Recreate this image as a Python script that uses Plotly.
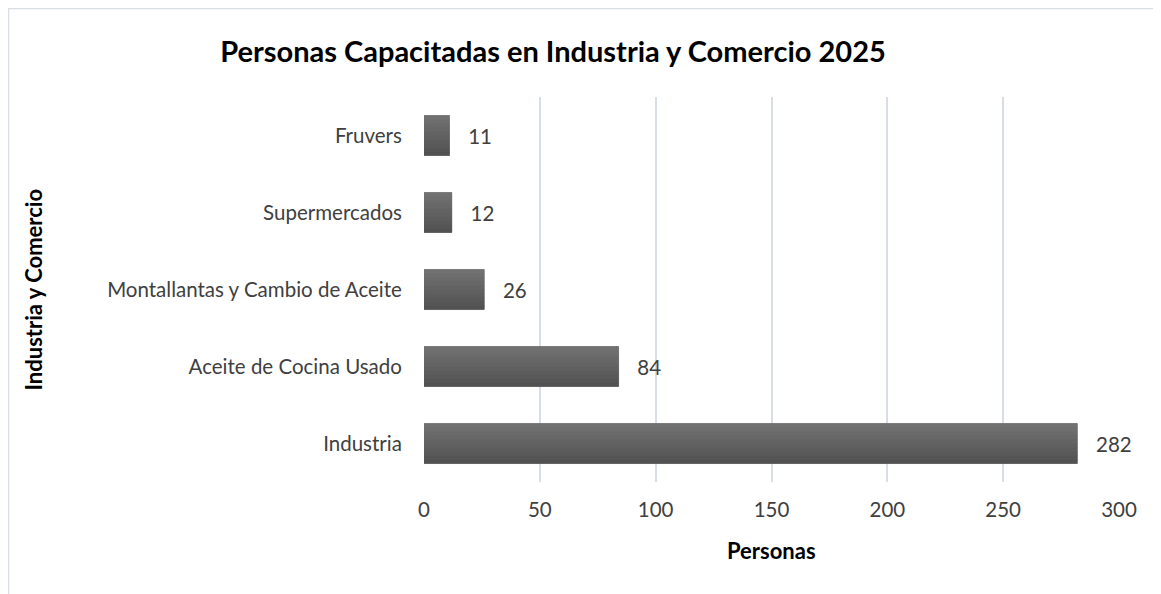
import plotly.graph_objects as go

categorias = ['Industria', 'Aceite de Cocina Usado', 'Montallantas y Cambio de Aceite',
              'Supermercados', 'Fruvers']
personas = [282, 84, 26, 12, 11]
ticks_x = [0, 50, 100, 150, 200, 250, 300]

W, H = 1161, 594
L, R, T, B = 416, 50, 89, 120
pw, ph = W - L - R, H - T - B
ancho = 0.52

fig = go.Figure()
fig.add_trace(go.Bar(
    y=categorias, x=personas, orientation='h',
    marker=dict(color='#5f5f5f', line=dict(width=0)),
    width=ancho,
    text=personas, texttemplate='\u00a0\u00a0\u00a0%{text}', textposition='outside',
    textfont=dict(size=20.5, color='#404040'),
    cliponaxis=False, hoverinfo='skip',
))

# degradado vertical de la barra (claro arriba, oscuro abajo)
n = 10
for i in range(n):
    t = i / (n - 1)
    g = int(round(0x52 + (0x71 - 0x52) * t))
    fig.add_trace(go.Bar(
        y=categorias, x=personas, orientation='h',
        width=ancho / n, offset=-ancho / 2 + i * ancho / n,
        marker=dict(color=f'rgb({g},{g},{g})', line=dict(width=0.6, color=f'rgb({g},{g},{g})')),
        hoverinfo='skip',
    ))

fig.update_layout(
    width=W, height=H, barmode='overlay',
    margin=dict(l=L, r=R, t=T, b=B, autoexpand=False),
    paper_bgcolor='white', plot_bgcolor='white',
    font=dict(family='Lato', size=20.5, color='#404040'),
    title=dict(text='<b>Personas Capacitadas en Industria y Comercio 2025</b>',
               x=545 / W, xanchor='center', y=1 - 44 / H, yanchor='middle',
               font=dict(size=29, color='black')),
    showlegend=False,
)
fig.update_xaxes(range=[0, 300], tickvals=ticks_x, showgrid=True,
                 gridcolor='#d9dde4', gridwidth=1.5, zeroline=False,
                 showline=False, ticks='outside', ticklen=9,
                 tickcolor='rgba(0,0,0,0)',
                 tickfont=dict(size=20.5, color='#404040'))
fig.update_yaxes(showgrid=False, zeroline=False, showline=False,
                 ticks='outside', ticklen=17, tickcolor='rgba(0,0,0,0)',
                 tickfont=dict(size=20.5, color='#404040'))

fig.add_annotation(text='<b>Personas</b>', xref='paper', yref='paper',
                   x=0.5, y=-(542 - (H - B)) / ph, xanchor='center', yanchor='middle',
                   showarrow=False, font=dict(size=22, color='black'))
fig.add_annotation(text='<b>Industria y Comercio</b>', xref='paper', yref='paper',
                   x=-(L - 25) / pw, y=0.5, xanchor='center', yanchor='middle',
                   textangle=-90, showarrow=False, font=dict(size=22, color='black'))

# borde del area del grafico
fig.add_shape(type='rect', xref='paper', yref='paper',
              x0=(0.5 - L) / pw, x1=(W + 5 - L) / pw,
              y0=(H - B - (H + 5)) / ph, y1=(H - B - 0.5) / ph,
              line=dict(color='#d9dde4', width=1.5), layer='below')

fig.write_html('out.html')
